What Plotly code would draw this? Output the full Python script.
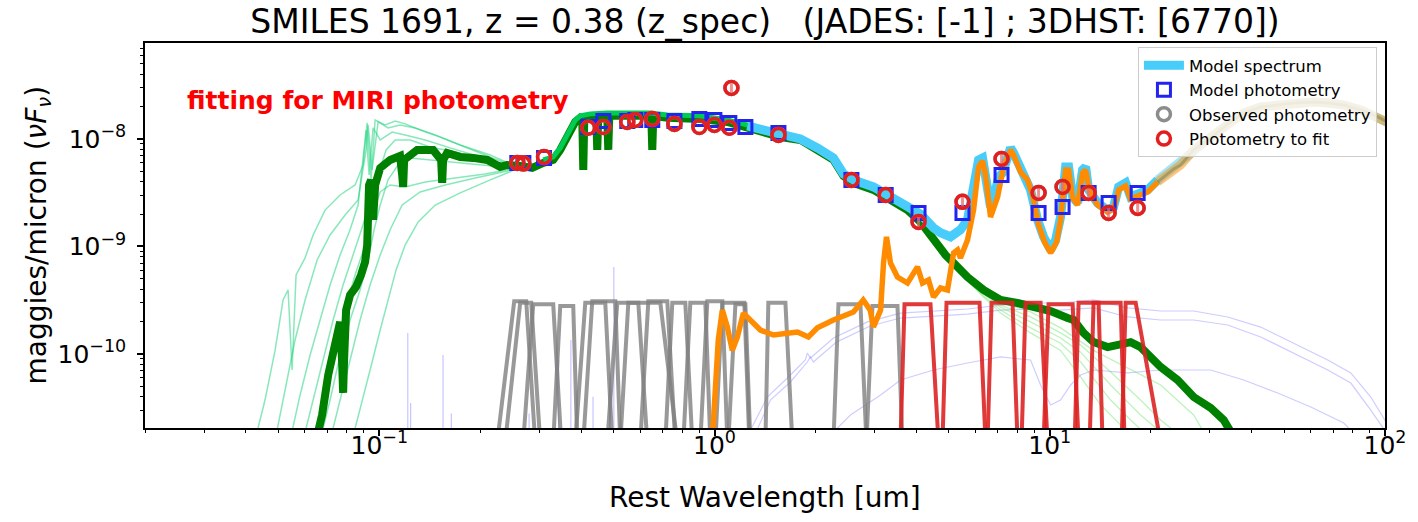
import math
import plotly.graph_objects as go

FONT = "DejaVu Sans"

# ---------------- photometry ----------------
obs_wave = [0.258, 0.269, 0.310, 0.420, 0.466, 0.549, 0.580, 0.652, 0.759, 0.901, 0.999, 1.107, 1.123,
            1.551, 2.56, 3.24, 4.06, 5.49, 7.18, 9.26, 10.92, 13.06, 14.98, 18.29]
obs_flux = [5.98e-9, 5.90e-9, 6.80e-9, 1.27e-8, 1.29e-8, 1.44e-8, 1.50e-8, 1.535e-8, 1.38e-8, 1.29e-8,
            1.35e-8, 1.27e-8, 2.98e-8, 1.09e-8, 4.16e-9, 3.01e-9, 1.69e-9, 2.60e-9, 6.52e-9, 3.15e-9,
            3.58e-9, 3.15e-9, 2.05e-9, 2.28e-9]
obs_err = [0, 0, 0, 0, 0, 0, 0, 0, 0, 0, 0, 0, 2.7e-9, 0, 0, 0,
           1.9e-10, 2.9e-10, 7.2e-10, 3.5e-10, 3.9e-10, 3.5e-10, 2.3e-10, 2.5e-10]

mod_wave = [0.258, 0.269, 0.310, 0.420, 0.466, 0.549, 0.580, 0.652, 0.759, 0.901, 0.999, 1.107, 1.236,
            1.551, 2.56, 3.24, 4.06, 5.49, 7.18, 9.26, 10.92, 13.06, 14.98, 18.29]
mod_flux = [5.98e-9, 5.98e-9, 6.66e-9, 1.29e-8, 1.47e-8, 1.47e-8, 1.50e-8, 1.50e-8, 1.47e-8, 1.535e-8,
            1.50e-8, 1.41e-8, 1.29e-8, 1.137e-8, 4.16e-9, 3.01e-9, 2.05e-9, 2.05e-9, 4.62e-9, 2.05e-9,
            2.33e-9, 3.15e-9, 2.54e-9, 3.15e-9]

# ---------------- best-fit stellar spectrum (dark green) ----------------
stellar_wave = [0.0648, 0.0675, 0.0704, 0.0728, 0.0743, 0.0753, 0.0764, 0.0774, 0.0780, 0.0785, 0.0796,
                0.0818, 0.0852, 0.0882, 0.0907, 0.0920, 0.0926, 0.0932, 0.0945, 0.0958, 0.0972, 0.1006,
                0.1077, 0.1153, 0.1170, 0.1178, 0.1186, 0.1297, 0.1447, 0.1529, 0.1540, 0.1550, 0.1593,
                0.1743, 0.1905, 0.2099, 0.2294, 0.2407, 0.2632, 0.2858, 0.3083, 0.3302, 0.3465, 0.3586,
                0.3712, 0.3842, 0.3975, 0.4031, 0.4059, 0.4087, 0.4259, 0.4438, 0.4468, 0.4499, 0.4786,
                0.4819, 0.4853, 0.5234, 0.6475, 0.6520, 0.6566, 0.7229, 0.9070, 1.092, 1.253, 1.572,
                1.804, 2.027, 2.263, 2.424, 2.596, 2.979, 3.348, 3.763, 4.115, 4.499, 4.887, 5.164,
                5.683, 6.345, 7.131, 8.015, 8.946, 10.06, 11.30, 11.78, 12.62, 13.51, 14.88, 16.27,
                17.43, 18.66, 20.00, 21.42, 24.07, 26.87, 30.20, 33.03, 35.86]
stellar_flux = [1.58e-11, 2.71e-11, 6.38e-11, 9.79e-11, 1.21e-10, 1.67e-10, 1.99e-10, 8.79e-11, 4.34e-11,
                8.79e-11, 2.56e-10, 3.54e-10, 4.20e-10, 5.43e-10, 7.18e-10, 1.03e-9, 2.18e-9, 3.73e-9,
                4.16e-9, 1.77e-9, 3.73e-9, 5.37e-9, 6.38e-9, 6.95e-9, 4.62e-9, 3.58e-9, 6.38e-9, 7.90e-9,
                7.90e-9, 6.38e-9, 3.90e-9, 6.38e-9, 7.41e-9, 6.80e-9, 6.66e-9, 6.38e-9, 5.49e-9, 5.73e-9,
                5.61e-9, 5.37e-9, 5.98e-9, 6.38e-9, 7.90e-9, 9.79e-9, 1.21e-8, 1.44e-8, 1.57e-8, 1.535e-8,
                5.15e-9, 1.535e-8, 1.60e-8, 1.60e-8, 7.90e-9, 1.60e-8, 1.64e-8, 7.90e-9, 1.64e-8, 1.64e-8,
                1.64e-8, 7.90e-9, 1.64e-8, 1.57e-8, 1.535e-8, 1.44e-8, 1.29e-8, 1.04e-8, 9.79e-9, 7.90e-9,
                6.38e-9, 4.53e-9, 3.90e-9, 3.36e-9, 2.71e-9, 2.18e-9, 1.69e-9, 1.15e-9, 8.33e-10, 7.03e-10,
                5.20e-10, 3.94e-10, 3.18e-10, 2.98e-10, 2.73e-10, 2.51e-10, 2.16e-10, 2.07e-10, 1.57e-10,
                1.29e-10, 1.16e-10, 1.26e-10, 1.29e-10, 1.16e-10, 9.38e-11, 7.57e-11, 5.73e-11, 3.98e-11,
                3.15e-11, 2.43e-11, 1.58e-11]

# bright green spectrum overlay
bright_wave = [0.3083, 0.3302, 0.3465, 0.3586, 0.3712, 0.3842, 0.3975, 0.4259, 0.4786, 0.5234, 0.6430,
               0.7229, 0.9070, 1.092, 1.253, 1.572, 1.804, 2.027, 2.263, 2.424, 2.596, 2.979, 3.348,
               3.763, 4.115]
bright_flux = [6.38e-9, 6.80e-9, 8.25e-9, 1.02e-8, 1.266e-8, 1.50e-8, 1.64e-8, 1.71e-8, 1.745e-8,
               1.745e-8, 1.745e-8, 1.67e-8, 1.64e-8, 1.50e-8, 1.35e-8, 1.11e-8, 1.02e-8, 8.25e-9,
               6.66e-9, 4.72e-9, 4.07e-9, 3.50e-9, 2.83e-9, 2.28e-9, 1.77e-9]

# ---------------- total model spectrum (light blue) ----------------
model_wave = [1.253, 1.572, 1.804, 2.027, 2.263, 2.424, 2.596, 2.979, 3.348, 3.763, 4.115, 4.499, 4.721,
              5.058, 5.415, 5.683, 5.923, 6.131, 6.302, 6.434, 6.658, 6.797, 7.035, 7.232, 7.482, 7.638,
              7.797, 8.180, 8.467, 8.763, 9.196, 9.583, 10.06, 10.41, 10.77, 11.15, 11.38, 11.70, 12.11,
              12.53, 12.79, 13.06, 13.89, 14.88, 15.50, 16.05, 16.84, 17.43, 18.66, 19.59, 20.98, 23.42,
              24.58, 26.87, 30.20, 33.95, 37.89, 42.59, 47.86, 53.44, 61.31, 67.50, 75.35, 84.68, 95.18,
              104.1]
model_flux = [1.32e-8, 1.09e-8, 1.00e-8, 8.25e-9, 6.66e-9, 4.72e-9, 4.16e-9, 3.58e-9, 2.95e-9, 2.43e-9,
              2.00e-9, 1.49e-9, 1.34e-9, 1.23e-9, 1.43e-9, 1.77e-9, 3.36e-9, 6.38e-9, 6.66e-9, 4.83e-9,
              2.33e-9, 2.71e-9, 4.43e-9, 4.83e-9, 6.38e-9, 8.25e-9, 7.41e-9, 5.15e-9, 4.43e-9, 3.36e-9,
              1.77e-9, 1.23e-9, 9.28e-10, 1.15e-9, 1.88e-9, 5.49e-9, 5.49e-9, 2.89e-9, 2.54e-9, 5.15e-9,
              5.49e-9, 3.36e-9, 2.54e-9, 2.18e-9, 2.33e-9, 3.58e-9, 3.90e-9, 2.89e-9, 3.15e-9, 3.36e-9,
              4.16e-9, 5.49e-9, 5.98e-9, 7.90e-9, 1.02e-8, 1.38e-8, 1.745e-8, 1.98e-8, 2.07e-8, 2.16e-8,
              2.21e-8, 2.16e-8, 2.07e-8, 1.86e-8, 1.60e-8, 1.38e-8]

# ---------------- dust / AGN component (orange) ----------------
dust_wave = [0.985, 1.006, 1.026, 1.055, 1.092, 1.130, 1.170, 1.219, 1.279, 1.370, 1.498, 1.767, 1.905,
             2.027, 2.263, 2.596, 2.777, 2.913, 2.979, 3.128, 3.192, 3.258, 3.348, 3.513, 3.763, 4.031,
             4.172, 4.348, 4.499, 4.721, 4.953, 5.058, 5.164, 5.306, 5.415, 5.683, 5.923, 6.131, 6.302,
             6.434, 6.658, 6.987, 7.281, 7.638, 7.797, 8.180, 8.583, 8.886, 9.260, 9.649, 10.06, 10.48,
             10.77, 11.15, 11.38, 11.70, 12.11, 12.53, 12.79, 13.15, 13.89, 14.88, 15.50, 16.05, 16.84,
             17.43, 18.66, 19.59, 20.98, 23.42, 24.58, 26.87, 30.20, 33.95, 37.89, 42.59, 47.86, 53.44,
             61.31, 67.50, 75.35, 84.68, 95.18, 104.1]
dust_flux = [1.58e-11, 4.62e-11, 1.35e-10, 2.56e-10, 1.78e-10, 1.08e-10, 1.44e-10, 2.40e-10, 2.07e-10,
             1.67e-10, 1.50e-10, 1.60e-10, 1.44e-10, 1.75e-10, 2.07e-10, 2.46e-10, 3.18e-10, 2.56e-10,
             1.78e-10, 2.56e-10, 7.03e-10, 1.23e-9, 7.03e-10, 5.20e-10, 4.57e-10, 6.45e-10, 4.57e-10,
             4.88e-10, 3.39e-10, 4.11e-10, 3.94e-10, 6.45e-10, 8.70e-10, 9.28e-10, 7.82e-10, 1.15e-9,
             2.18e-9, 5.49e-9, 6.24e-9, 4.62e-9, 1.88e-9, 2.89e-9, 5.49e-9, 7.90e-9, 7.10e-9, 4.93e-9,
             4.16e-9, 3.01e-9, 1.59e-9, 1.10e-9, 8.70e-10, 1.10e-9, 1.77e-9, 5.15e-9, 5.15e-9, 2.83e-9,
             2.43e-9, 4.83e-9, 5.15e-9, 3.21e-9, 2.43e-9, 2.09e-9, 2.23e-9, 3.36e-9, 3.65e-9, 2.77e-9,
             3.01e-9, 3.21e-9, 3.98e-9, 5.26e-9, 5.73e-9, 7.90e-9, 1.02e-8, 1.38e-8, 1.745e-8, 1.98e-8,
             2.07e-8, 2.16e-8, 2.21e-8, 2.16e-8, 2.07e-8, 1.86e-8, 1.60e-8, 1.38e-8]
FIR_START = 20.98   # beyond this the model spectra are drawn faded

# ---------------- posterior stellar samples (UV, mint) ----------------
uv_sample_waves = [
    [0.04258, 0.04561, 0.04887, 0.05163, 0.05344, 0.05493, 0.05645, 0.06006, 0.06346, 0.06891, 0.07638,
     0.08467, 0.08945, 0.09195, 0.0945, 0.09716, 0.1041, 0.1115, 0.1194, 0.1324, 0.1518, 0.1804, 0.2142, 0.2457],
    [0.05418, 0.05804, 0.06216, 0.06659, 0.07131, 0.07638, 0.0818, 0.08643, 0.08945, 0.09132, 0.09323,
     0.09581, 0.1006, 0.1092, 0.1194, 0.137, 0.1627, 0.2, 0.2457],
    [0.05924, 0.06346, 0.06797, 0.0728, 0.07796, 0.08351, 0.08885, 0.09385, 0.09918, 0.1048, 0.1115,
     0.1236, 0.1418, 0.1684, 0.2069, 0.2491],
    [0.06435, 0.06891, 0.07381, 0.07905, 0.08467, 0.09069, 0.09515, 0.1006, 0.1077, 0.1194, 0.137, 0.1684,
     0.2069, 0.2491],
    [0.07131, 0.07638, 0.0818, 0.08763, 0.09385, 0.1006, 0.1077, 0.117, 0.1324, 0.1572, 0.1932, 0.2491],
    [0.08294, 0.08763, 0.09385, 0.1006, 0.1062, 0.1122, 0.1194, 0.1306, 0.1468, 0.1743, 0.2142, 0.2491],
    [0.04887, 0.05234, 0.05606, 0.06006, 0.06523, 0.07131, 0.07905, 0.08643, 0.09132, 0.09262, 0.09515,
     0.09918, 0.1062, 0.1153, 0.1279, 0.1468, 0.1743, 0.2142, 0.2491],
    [0.06659, 0.07131, 0.07638, 0.0818, 0.08763, 0.09262, 0.09649, 0.1006, 0.1062, 0.1138, 0.1236, 0.1418,
     0.1684, 0.2069, 0.2491],
]
uv_sample_fluxes = [
    [1.58e-11, 3.73e-11, 1.08e-10, 3.18e-10, 3.94e-10, 7.10e-11, 5.43e-10, 7.82e-10, 1.28e-9, 2.18e-9, 3.01e-9,
     3.73e-9, 5.73e-9, 1.41e-8, 4.16e-9, 1.50e-8, 1.35e-8, 1.47e-8, 1.38e-8, 1.21e-8, 1.04e-8, 8.42e-9, 6.80e-9, 5.73e-9],
    [1.58e-11, 4.16e-11, 9.79e-11, 2.07e-10, 4.38e-10, 8.33e-10, 1.43e-9, 2.43e-9, 6.38e-9, 1.21e-8, 4.62e-9,
     1.266e-8, 9.79e-9, 1.16e-8, 1.09e-8, 9.79e-9, 8.25e-9, 6.80e-9, 5.61e-9],
    [1.58e-11, 3.73e-11, 8.79e-11, 2.07e-10, 4.38e-10, 8.33e-10, 1.49e-9, 2.71e-9, 4.62e-9, 7.90e-9, 9.79e-9,
     9.79e-9, 8.42e-9, 7.57e-9, 6.38e-9, 5.49e-9],
    [1.58e-11, 4.16e-11, 1.08e-10, 2.56e-10, 5.43e-10, 1.03e-9, 1.96e-9, 3.21e-9, 3.73e-9, 3.58e-9, 3.98e-9,
     4.34e-9, 4.72e-9, 5.26e-9],
    [1.58e-11, 3.73e-11, 8.79e-11, 2.07e-10, 4.38e-10, 8.33e-10, 1.43e-9, 2.43e-9, 3.21e-9, 3.73e-9, 4.34e-9, 5.15e-9],
    [1.58e-11, 3.01e-11, 7.10e-11, 1.67e-10, 3.18e-10, 6.05e-10, 1.03e-9, 1.69e-9, 2.43e-9, 3.15e-9, 4.16e-9, 5.04e-9],
    [1.58e-11, 4.62e-11, 1.35e-10, 3.18e-10, 7.49e-10, 1.28e-9, 1.96e-9, 2.71e-9, 7.90e-9, 1.35e-8, 5.15e-9,
     1.44e-8, 1.266e-8, 1.35e-8, 1.266e-8, 1.09e-8, 8.79e-9, 7.10e-9, 5.73e-9],
    [1.58e-11, 3.73e-11, 9.79e-11, 2.07e-10, 3.94e-10, 7.49e-10, 1.43e-9, 2.43e-9, 4.16e-9, 5.73e-9, 6.66e-9,
     6.38e-9, 5.98e-9, 5.61e-9, 5.37e-9],
]

# ---------------- posterior stellar samples (IR, pale green) ----------------
ir_sample_waves = [
    [4.115, 5.164, 6.345, 7.131, 8.763, 10.77, 13.51, 17.07, 21.42, 26.87, 28.78],
    [4.115, 5.164, 6.345, 7.131, 8.763, 10.77, 12.36, 15.19, 18.66, 21.42, 23.75],
    [4.115, 5.164, 6.345, 7.131, 8.763, 10.77, 12.36, 15.19, 18.66, 21.42],
    [4.115, 5.164, 6.345, 7.131, 8.763, 10.77, 12.36, 15.19, 17.43, 19.06],
    [4.115, 5.164, 6.345, 7.131, 8.763, 10.77, 12.36, 14.18, 17.07],
]
ir_sample_fluxes = [
    [1.59e-9, 6.73e-10, 3.77e-10, 3.05e-10, 2.46e-10, 1.75e-10, 1.08e-10, 7.41e-11, 5.15e-11, 2.71e-11, 1.88e-11],
    [1.59e-9, 6.73e-10, 3.69e-10, 2.85e-10, 2.21e-10, 1.57e-10, 1.21e-10, 6.80e-11, 3.73e-11, 2.43e-11, 1.88e-11],
    [1.59e-9, 6.59e-10, 3.61e-10, 2.73e-10, 1.99e-10, 1.41e-10, 1.04e-10, 5.15e-11, 2.71e-11, 1.88e-11],
    [1.55e-9, 6.45e-10, 3.47e-10, 2.56e-10, 1.75e-10, 1.26e-10, 8.42e-11, 3.73e-11, 2.43e-11, 1.88e-11],
    [1.55e-9, 6.45e-10, 3.39e-10, 2.40e-10, 1.57e-10, 1.08e-10, 6.11e-11, 3.36e-11, 1.88e-11],
]

# ---------------- nebular / dust components (lavender) ----------------
line_wave = [0.1216, 0.1240, 0.1549, 0.1640, 0.2798, 0.3426, 0.3727, 0.3869, 0.4340, 0.4861, 0.5007]
line_peak = [1.57e-10, 3.5e-11, 9.8e-11, 2.8e-11, 2.8e-11, 8.8e-11, 1.35e-10, 4.6e-11, 4.0e-11, 6.7e-11, 6.45e-10]

comp1_wave = [1.236, 1.437, 1.649, 1.866, 1.892, 1.932, 2.263, 2.858, 3.586, 4.499, 5.683, 7.131, 8.763,
              10.77, 13.51, 17.07, 21.42, 26.87, 33.95, 42.59, 53.44, 67.50, 79.06, 90.7, 104.1]
comp1_flux = [1.58e-11, 3.98e-11, 5.98e-11, 8.79e-11, 1.02e-10, 9.18e-11, 1.41e-10, 1.99e-10, 2.40e-10,
              2.51e-10, 2.62e-10, 2.85e-10, 2.98e-10, 2.98e-10, 3.18e-10, 2.68e-10, 2.51e-10, 2.51e-10,
              2.21e-10, 1.78e-10, 1.26e-10, 8.79e-11, 6.66e-11, 3.98e-11, 1.96e-11]
comp2_wave = [1.297, 1.468, 1.684, 1.892, 1.932, 1.972, 2.310, 2.913, 3.586, 4.499, 5.683, 7.131, 8.763,
              10.77, 13.51, 17.07, 21.42, 26.87, 33.95, 42.59, 53.44, 67.50, 79.06, 90.7, 100.6]
comp2_flux = [1.58e-11, 3.73e-11, 5.49e-11, 8.42e-11, 9.38e-11, 8.42e-11, 1.29e-10, 1.82e-10, 2.16e-10,
              2.26e-10, 2.35e-10, 2.56e-10, 2.62e-10, 2.56e-10, 2.68e-10, 2.21e-10, 2.07e-10, 2.07e-10,
              1.86e-10, 1.44e-10, 1.02e-10, 7.10e-11, 5.37e-11, 3.01e-11, 1.88e-11]
comp3_wave = [2.141, 2.543, 3.128, 3.586, 4.499, 5.683, 7.131, 8.763, 9.387, 10.06, 10.77, 11.54, 12.36,
              13.51, 17.07, 21.42, 30.20, 37.89, 47.86, 60.06, 75.35, 84.68]
comp3_flux = [1.58e-11, 2.71e-11, 4.16e-11, 5.73e-11, 7.10e-11, 8.25e-11, 9.38e-11, 8.79e-11, 5.15e-11,
              3.36e-11, 3.73e-11, 5.15e-11, 6.38e-11, 7.10e-11, 6.66e-11, 7.10e-11, 7.10e-11, 5.73e-11,
              4.34e-11, 3.21e-11, 2.28e-11, 1.58e-11]

# ---------------- filter transmission curves ----------------
FILTER_BASE = 1.5e-11
grey_lo_base = [0.2247, 0.2374, 0.2687, 0.3302, 0.3842, 0.4059, 0.4786, 0.5234, 0.6005, 0.7131, 0.8071,
                0.9070, 1.0055, 1.099, 1.418, 2.263, 2.839]
grey_lo_top = [0.2526, 0.2632, 0.2878, 0.3465, 0.4115, 0.4317, 0.5127, 0.5531, 0.6345, 0.7482, 0.8467,
               0.9517, 1.055, 1.154, 1.447, 2.342, 2.958]
grey_hi_top = [0.2743, 0.2839, 0.3302, 0.3789, 0.4721, 0.5057, 0.5923, 0.6890, 0.7229, 0.8181, 0.9387,
               1.055, 1.227, 1.236, 1.627, 2.724, 3.513]
grey_hi_base = [0.2918, 0.3020, 0.3489, 0.3895, 0.4953, 0.5234, 0.6301, 0.7744, 0.7638, 0.8585, 0.9716,
                1.092, 1.270, 1.279, 1.707, 2.839, 3.636]
grey_peak = [3.1e-10, 3.0e-10, 2.9e-10, 2.8e-10, 3.0e-10, 3.1e-10, 3.0e-10, 3.0e-10, 3.1e-10, 3.0e-10,
             3.0e-10, 3.1e-10, 3.0e-10, 2.9e-10, 3.0e-10, 2.9e-10, 2.8e-10]

miri_lo_base = [3.586, 4.786, 6.522, 8.237, 9.583, 11.86, 13.15, 16.38]
miri_lo_top = [3.687, 4.920, 6.704, 8.467, 9.917, 12.19, 13.51, 16.84]
miri_hi_top = [4.408, 6.172, 7.744, 9.387, 11.70, 13.98, 16.27, 18.04]
miri_hi_base = [4.658, 6.434, 8.015, 9.849, 12.19, 14.37, 16.72, 21.42]
miri_peak = [2.9e-10, 3.0e-10, 3.0e-10, 3.0e-10, 2.9e-10, 3.0e-10, 3.0e-10, 3.0e-10]

# ---------------- axes ----------------
x_range = [0.02, 100.0]
y_range = [2.05e-11, 7.8e-8]
x_major = [0.1, 1, 10, 100]
x_major_text = ["10<sup>\u22121</sup>", "10<sup>0</sup>", "10<sup>1</sup>", "10<sup>2</sup>"]
y_major = [1e-10, 1e-9, 1e-8]
y_major_text = ["10<sup>\u221210</sup>", "10<sup>\u22129</sup>", "10<sup>\u22128</sup>"]

FIG_W, FIG_H = 1418, 522
M_L, M_T, PLOT_W, PLOT_H = 145, 43, 1240, 385


def minor_ticks(lo, hi):
    out = []
    for e in range(-12, 3):
        for k in range(2, 10):
            v = k * 10.0 ** e
            if lo * 0.999 <= v <= hi * 1.001:
                out.append(v)
    return out


fig = go.Figure()


def add_line(x, y, color, width, name="", showlegend=False, rank=1000):
    fig.add_trace(go.Scatter(x=x, y=y, mode="lines", line=dict(color=color, width=width),
                             name=name, showlegend=showlegend, hoverinfo="skip", legendrank=rank))


def segments(xs_list, ys_list):
    X, Y = [], []
    for xs, ys in zip(xs_list, ys_list):
        X += list(xs) + [None]
        Y += list(ys) + [None]
    return X, Y


# emission lines
ex, ey = segments([[w, w] for w in line_wave], [[1e-13, p] for p in line_peak])
add_line(ex, ey, "rgba(90,90,255,0.35)", 1.2)
for wl, fl in [(comp1_wave, comp1_flux), (comp2_wave, comp2_flux), (comp3_wave, comp3_flux)]:
    add_line(wl, fl, "rgba(90,90,255,0.3)", 1.2)

for wl, fl in zip(uv_sample_waves, uv_sample_fluxes):
    add_line(wl, fl, "rgba(20,210,120,0.5)", 1.5)
for wl, fl in zip(ir_sample_waves, ir_sample_fluxes):
    add_line(wl, fl, "rgba(90,225,90,0.4)", 1.3)

add_line(stellar_wave, stellar_flux, "#008000", 8)
add_line(bright_wave, bright_flux, "#00cc55", 5)

# filters
gx, gy = segments([[a, b, c, d] for a, b, c, d in zip(grey_lo_base, grey_lo_top, grey_hi_top, grey_hi_base)],
                  [[FILTER_BASE, p, p, FILTER_BASE] for p in grey_peak])
add_line(gx, gy, "rgba(128,128,128,0.8)", 4)
mx, my = segments([[a, b, c, d] for a, b, c, d in zip(miri_lo_base, miri_lo_top, miri_hi_top, miri_hi_base)],
                  [[FILTER_BASE, p, p, FILTER_BASE] for p in miri_peak])
add_line(mx, my, "rgba(220,35,35,0.9)", 4)

# model spectrum and dust component (faded beyond the MIRI coverage)
im = model_wave.index(FIR_START)
idd = dust_wave.index(FIR_START)
add_line(model_wave[:im + 1], model_flux[:im + 1], "#48cdfa", 9, name="Model spectrum", showlegend=True, rank=1)
add_line(dust_wave[:idd + 1], dust_flux[:idd + 1], "#ff8c00", 5.5)
add_line(model_wave[im:], model_flux[im:], "rgba(72,205,250,0.5)", 9)
add_line(dust_wave[idd:], dust_flux[idd:], "rgba(255,140,0,0.5)", 9)
add_line(dust_wave[idd:], dust_flux[idd:], "rgba(110,120,70,0.45)", 3)

# photometry markers
fig.add_trace(go.Scatter(x=mod_wave, y=mod_flux, mode="markers", name="Model photometry",
                         marker=dict(symbol="square-open", size=13, color="rgb(35,35,240)", line=dict(width=3)),
                         hoverinfo="skip", legendrank=2))
fig.add_trace(go.Scatter(x=obs_wave, y=obs_flux, mode="markers", name="Observed photometry",
                         marker=dict(symbol="circle-open", size=13, color="rgb(140,140,140)", line=dict(width=3.5)),
                         hoverinfo="skip", legendrank=3))
fig.add_trace(go.Scatter(x=obs_wave, y=obs_flux, mode="markers", name="Photometry to fit",
                         marker=dict(symbol="circle-open", size=13, color="rgb(228,30,30)", line=dict(width=3.5)),
                         error_y=dict(type="data", array=obs_err, color="rgba(235,110,110,0.75)",
                                      thickness=3, width=0),
                         hoverinfo="skip", legendrank=4))

axis_common = dict(type="log", showline=True, linecolor="black", linewidth=1.5, mirror=True,
                   ticks="outside", ticklen=6, tickwidth=1.5, tickcolor="black", showgrid=False,
                   zeroline=False, tickfont=dict(family=FONT, size=25, color="black"), tickmode="array")

fig.update_xaxes(**axis_common, range=[math.log10(x_range[0]), math.log10(x_range[1])],
                 tickvals=x_major, ticktext=x_major_text, ticklabelstandoff=-12,
                 minor=dict(tickmode="array", tickvals=minor_ticks(*x_range), ticks="outside",
                            ticklen=3.5, tickwidth=1, tickcolor="black", showgrid=False))
fig.update_yaxes(**axis_common, range=[math.log10(y_range[0]), math.log10(y_range[1])],
                 tickvals=y_major, ticktext=y_major_text, ticklabelstandoff=6,
                 minor=dict(tickmode="array", tickvals=minor_ticks(*y_range), ticks="outside",
                            ticklen=3.5, tickwidth=1, tickcolor="black", showgrid=False))

fig.update_layout(
    width=FIG_W, height=FIG_H,
    margin=dict(l=M_L, r=FIG_W - M_L - PLOT_W, t=M_T, b=FIG_H - M_T - PLOT_H),
    plot_bgcolor="white", paper_bgcolor="white",
    font=dict(family=FONT, color="black"),
    title=dict(text="SMILES 1691, z = 0.38 (z_spec)\u00a0\u00a0\u00a0(JADES: [-1] ; 3DHST: [6770])",
               x=0.5, xref="paper", xanchor="center", y=1 - 21 / FIG_H, yref="container", yanchor="middle",
               font=dict(family=FONT, size=33, color="black")),
    legend=dict(x=0.9935, y=(428 - 47) / PLOT_H, xanchor="right", yanchor="top", bgcolor="rgba(255,255,255,0.8)",
                bordercolor="rgb(204,204,204)", borderwidth=1, itemwidth=40,
                font=dict(family=FONT, size=16.5, color="black")),
    annotations=[
        dict(text="maggies/micron (<i>\u03bdF</i><sub><i>\u03bd</i></sub>)", xref="paper", yref="paper",
             x=(38 - M_L) / PLOT_W, y=0.5, xanchor="center", yanchor="middle", textangle=-90,
             showarrow=False, font=dict(family=FONT, size=28, color="black")),
        dict(text="Rest Wavelength [um]", xref="paper", yref="paper", x=0.5, y=(428 - 497) / PLOT_H,
             xanchor="center", yanchor="middle", showarrow=False, font=dict(family=FONT, size=28, color="black")),
        dict(text="<b>fitting for MIRI photometry</b>", xref="paper", yref="paper", x=(185 - M_L) / PLOT_W,
             y=(428 - 100) / PLOT_H, xanchor="left", yanchor="middle", showarrow=False,
             font=dict(family=FONT, size=25, color="#ff0000")),
    ],
)

# remove the default 8 px page margin so the figure sits at the window origin; hide the mode bar
fig.write_html("out.html", config={"displayModeBar": False},
               post_script="document.body.style.margin='0px';")
